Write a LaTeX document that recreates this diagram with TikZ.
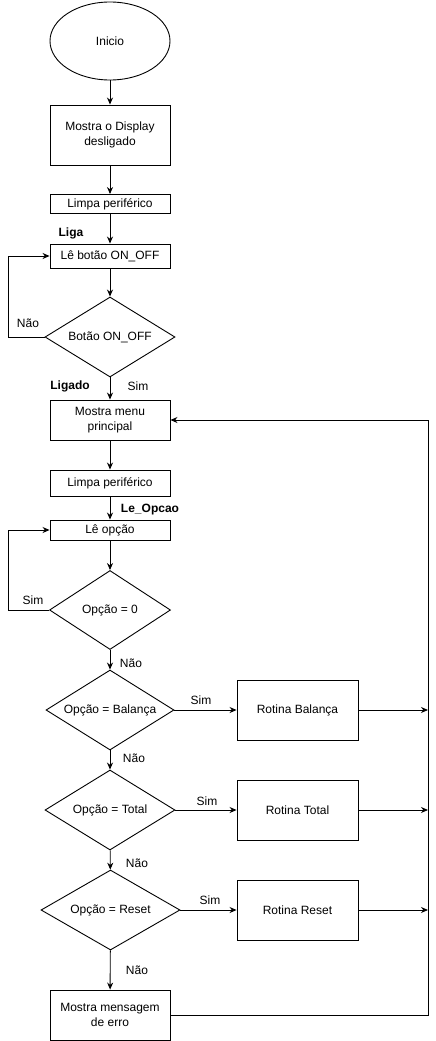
\documentclass[tikz,border=0pt]{standalone}
\usepackage{fontspec}
\setmainfont{Liberation Sans}
\usetikzlibrary{arrows.meta,shapes.geometric}

\begin{document}
\begin{tikzpicture}[x=1pt,y=-1pt,line width=0.9pt,
		font=\fontsize{12}{14.5}\selectfont,
		arr/.style={-{Stealth[length=7pt,width=6pt]}},
		caixa/.style={draw,rectangle,minimum width=120pt,align=center,inner sep=0pt},
		decisao/.style={draw,diamond,inner sep=0pt,aspect=1.6,minimum height=80pt},
		rotina/.style={draw,rectangle,minimum width=121pt,minimum height=60pt,inner sep=0pt}]
		\useasboundingbox (0,0) rectangle (436,1041);
		\node[draw,ellipse,minimum width=120pt,minimum height=78pt] (ini) at (110,41) {Inicio};
		\node[caixa,minimum height=60pt] (disp) at (110,135) {Mostra o Display\\desligado};
		\node[caixa,minimum height=19pt] (limpa1) at (110,204) {Limpa periférico};
		\node[caixa,minimum height=24pt] (le1) at (110,256) {Lê botão ON\_OFF};
		\node[decisao,minimum width=130pt] (dbot) at (110,337) {Botão ON\_OFF};
		\node[caixa,minimum height=40pt] (menu) at (110,420) {Mostra menu\\principal};
		\node[caixa,minimum height=26pt] (limpa2) at (110,483) {Limpa periférico};
		\node[caixa,minimum height=20pt] (le2) at (110,530) {Lê opção};
		\node[decisao,minimum width=121pt,minimum height=79pt] (dzero) at (110,610) {Opção = 0};
		\node[decisao,minimum width=128pt] (dbal) at (110,710) {Opção = Balança};
		\node[rotina] (rbal) at (297.5,710) {Rotina Balança};
		\node[decisao,minimum width=130pt] (dtot) at (110,810) {Opção = Total};
		\node[rotina] (rtot) at (297.5,810) {Rotina Total};
		\node[decisao,minimum width=139pt] (dres) at (110.5,910) {Opção = Reset};
		\node[rotina] (rres) at (297.5,910) {Rotina Reset};
		\node[caixa,minimum height=50pt] (erro) at (110,1015) {Mostra mensagem\\de erro};
		\coordinate (lp1) at (8,256);
		\coordinate (lp2) at (8,530);
		\coordinate (ret) at (428,420);
		\coordinate (cbal) at (428,710);
		\coordinate (ctot) at (428,810);
		\coordinate (cres) at (428,910);
		% fluxo principal
		\draw[arr] (ini) -- (disp);
		\draw[arr] (disp) -- (limpa1);
		\draw[arr] (limpa1) -- (le1);
		\draw[arr] (le1) -- (dbot);
		\draw[arr] (dbot.west) -| (lp1) -- (le1.west);
		\draw[arr] (dbot) -- (menu);
		\draw[arr] (menu) -- (limpa2);
		\draw[arr] (limpa2) -- (le2);
		\draw[arr] (le2) -- (dzero);
		\draw[arr] (dzero.west) -| (lp2) -- (le2.west);
		\draw[arr] (dzero) -- (dbal);
		\draw[arr] (dbal) -- (dtot);
		\draw[arr] (dtot) -- (dres);
		\draw[arr] (dres) -- (erro);
		% rotinas
		\draw[arr] (dbal) -- (rbal);
		\draw[arr] (dtot) -- (rtot);
		\draw[arr] (dres) -- (rres);
		\draw[arr] (rbal) -- (cbal);
		\draw[arr] (rtot) -- (ctot);
		\draw[arr] (rres) -- (cres);
		\draw[arr] (erro.east) -| (ret) -- (menu.east);
		% rotulos
		\node[font=\fontsize{12}{14.5}\selectfont\bfseries] (tliga) at (71,233) {Liga};
		\node (tnao1) at (28,323) {Não};
		\node[font=\fontsize{12}{14.5}\selectfont\bfseries] (tligado) at (70,386) {Ligado};
		\node (tsim1) at (138,386) {Sim};
		\node[font=\fontsize{12}{14.5}\selectfont\bfseries] (topcao) at (150,510) {Le\_Opcao};
		\node (tsim2) at (33,600) {Sim};
		\node (tnao2) at (131,663) {Não};
		\node (tsim3) at (201,700) {Sim};
		\node (tnao3) at (134,758) {Não};
		\node (tsim4) at (207,801) {Sim};
		\node (tnao4) at (137,863) {Não};
		\node (tsim5) at (210,900) {Sim};
		\node (tnao5) at (137,970) {Não};
\end{tikzpicture}
\end{document}
